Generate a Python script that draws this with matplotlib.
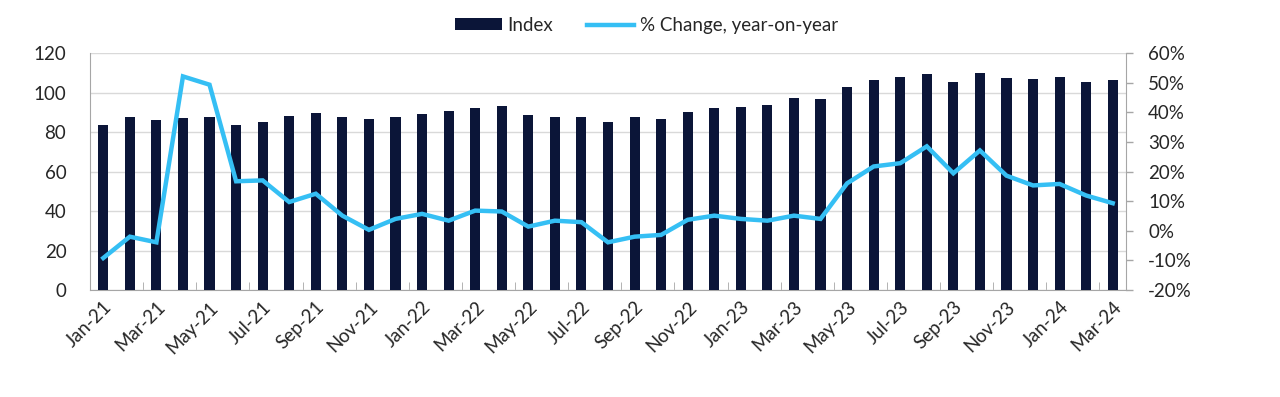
import numpy as np
import matplotlib.pyplot as plt
from matplotlib.ticker import FuncFormatter, FixedLocator

# Data
maaneder = ["Jan-21", "Feb-21", "Mar-21", "Apr-21", "May-21", "Jun-21", "Jul-21", "Aug-21",
            "Sep-21", "Oct-21", "Nov-21", "Dec-21", "Jan-22", "Feb-22", "Mar-22", "Apr-22",
            "May-22", "Jun-22", "Jul-22", "Aug-22", "Sep-22", "Oct-22", "Nov-22", "Dec-22",
            "Jan-23", "Feb-23", "Mar-23", "Apr-23", "May-23", "Jun-23", "Jul-23", "Aug-23",
            "Sep-23", "Oct-23", "Nov-23", "Dec-23", "Jan-24", "Feb-24", "Mar-24"]

index_vaerdier = [83.6, 87.4, 86.0, 87.0, 87.4, 83.6, 85.2, 88.2, 89.4, 87.4, 86.5, 87.4,
                  89.0, 90.4, 92.2, 93.1, 88.5, 87.4, 87.4, 85.2, 87.7, 86.5, 89.9, 92.2,
                  92.6, 93.8, 97.1, 96.8, 103.0, 106.4, 107.6, 109.3, 105.2, 109.8, 107.1,
                  106.7, 107.8, 105.2, 106.4]

yoy_pct = [-9.2, -2.0, -3.9, 52.1, 49.3, 16.7, 17.0, 9.7, 12.5, 5.1, 0.3, 4.0,
           5.7, 3.4, 6.8, 6.5, 1.4, 3.4, 2.9, -3.9, -2.0, -1.4, 3.7, 5.1,
           4.0, 3.4, 5.1, 4.0, 16.0, 21.7, 22.8, 28.5, 19.4, 27.1, 18.6, 15.3,
           15.8, 11.9, 9.3]

NAVY = "#0b1538"
LYSBLAA = "#35bff4"
TEKST = "#262626"
FS = 13.5

plt.rcParams['font.family'] = ['Lato', 'DejaVu Sans']

fig = plt.figure(figsize=(12.8, 3.97), dpi=100)
ax = fig.add_axes([0.0703, 0.2695, 0.8094, 0.597])
ax2 = ax.twinx()

x = np.arange(len(maaneder))
ax.bar(x, index_vaerdier, width=0.38, color=NAVY, label="Index", zorder=3)
ax2.plot(x, yoy_pct, color=LYSBLAA, lw=3.2, label="% Change, year-on-year",
         solid_joinstyle="miter", zorder=4)

# Venstre akse
ax.set_xlim(-0.5, len(maaneder) - 0.5)
ax.set_ylim(0, 120)
ax.set_yticks(range(0, 121, 20))
ax.yaxis.grid(True, color="#d9d9d9", lw=1, zorder=0)
ax.tick_params(axis="y", length=0, labelsize=FS, colors=TEKST, pad=17)

# Hoejre akse
ax2.set_ylim(-20, 60)
ax2.set_yticks(range(-20, 61, 10))
ax2.yaxis.set_major_formatter(FuncFormatter(lambda v, p: f"{int(v)}%"))
ax2.tick_params(axis="y", length=5, width=1, color="#a6a6a6", labelsize=FS,
                labelcolor=TEKST, pad=11)

# x-akse: labels hver anden maaned, ticks mellem kategorier
ax.set_xticks(x[::2])
ax.set_xticklabels(maaneder[::2], rotation=45, ha="right", rotation_mode="anchor",
                   fontsize=FS, color=TEKST)
ax.tick_params(axis="x", length=0, pad=6)
ax.xaxis.set_minor_locator(FixedLocator(np.arange(1.5, len(maaneder), 2)))
ax.tick_params(axis="x", which="minor", direction="in", length=6, color="#a6a6a6")

for a in (ax, ax2):
    a.spines["top"].set_visible(False)
    for s in ("left", "right", "bottom"):
        a.spines[s].set_color("#a6a6a6")
ax2.spines["left"].set_visible(False)
ax.spines["right"].set_visible(False)
ax2.spines["bottom"].set_visible(False)

# Legend
h1, l1 = ax.get_legend_handles_labels()
h2, l2 = ax2.get_legend_handles_labels()
fig.legend(h1 + h2, l1 + l2, loc="upper center", bbox_to_anchor=(0.505, 1.0), ncol=2,
           frameon=False, fontsize=FS, handlelength=2.5, handleheight=0.6,
           columnspacing=1.8, handletextpad=0.3, labelcolor=TEKST)

fig.savefig("out.png", dpi=100)
